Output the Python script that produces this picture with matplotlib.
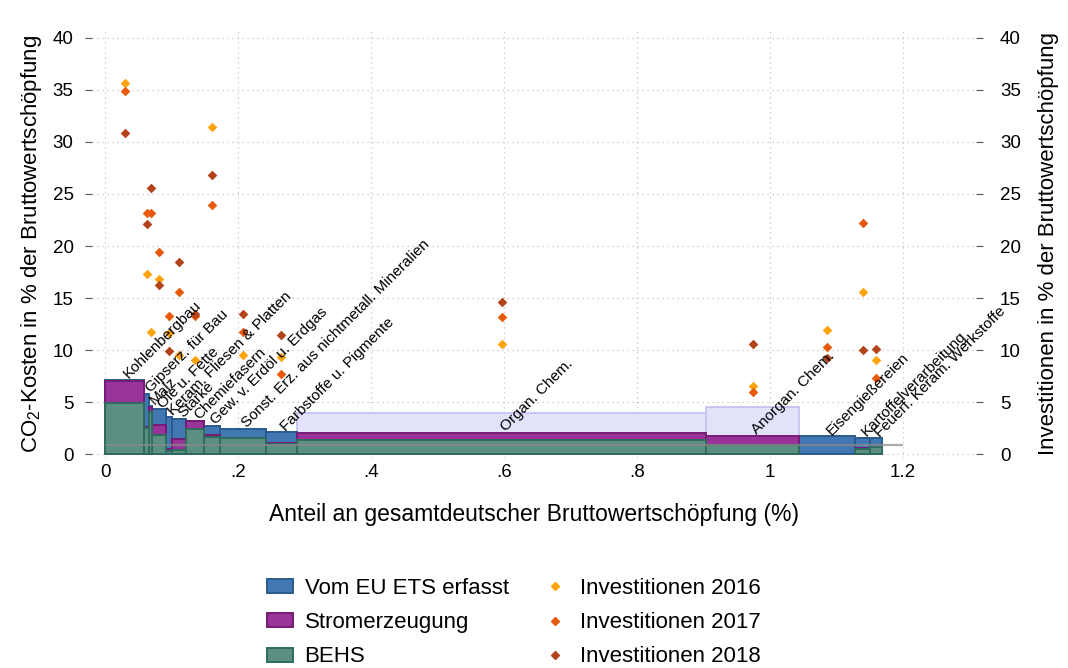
import matplotlib
matplotlib.use('Agg')
import matplotlib.pyplot as plt
from matplotlib.patches import Patch
from matplotlib.lines import Line2D
import numpy as np

plt.rcParams['font.family'] = ['Liberation Sans', 'DejaVu Sans']
plt.rcParams['mathtext.fontset'] = 'custom'
plt.rcParams['mathtext.rm'] = 'Liberation Sans'
plt.rcParams['mathtext.it'] = 'Liberation Sans:italic'

nan = np.nan

# ---------------- data ----------------
sektoren = ["Kohlenbergbau", "Gipserz. für Bau", "Malz", "Öle u. Fette",
            "Keram. Fliesen & Platten", "Stärke", "Chemiefasern",
            "Gew. v. Erdöl u. Erdgas", "Sonst. Erz. aus nichtmetall. Mineralien",
            "Farbstoffe u. Pigmente", "Organ. Chem.", "Anorgan. Chem.",
            "Eisengießereien", "Kartoffelverarbeitung", "Feuerf. Keram. Werkstoffe"]

# Anteil an gesamtdeutscher Bruttowertschöpfung (%) -> bar widths
anteil_bws = [0.0591, 0.0075, 0.0045, 0.0199, 0.0102, 0.0202, 0.0275, 0.0240,
              0.0685, 0.0473, 0.6151, 0.1398, 0.0842, 0.0226, 0.0176]

# CO2-Kosten in % der BWS
kosten_ets = [7.15, 5.8, 4.6, 4.3, 3.6, 3.4, 3.2, 2.7, 2.4, 2.1, nan, nan, 1.7, 1.57, 1.5]
kosten_nicht_ets = [nan, nan, nan, nan, nan, nan, nan, nan, nan, nan, 3.9, 4.55, nan, nan, nan]
kosten_strom = [7.0, 2.6, 4.5, 2.8, 0.5, 1.4, 3.15, 1.8, 0.0, 1.1, 2.05, 1.76, 0.0, 0.55, 0.0]
kosten_behs = [4.9, 2.5, 4.0, 1.8, 0.3, 0.35, 2.45, 1.6, 1.5, 1.0, 1.35, 0.87, 0.0, 0.45, 0.65]

referenzlinie_wert = 0.9
referenzlinie_ende = 1.2

# Investitionen in % der BWS
inv_2016 = [35.7, 17.3, 11.7, 16.8, 11.6, 9.5, 9.0, 31.4, 9.5, 9.3, 10.55, 6.55, 11.9, 15.6, 9.0]
inv_2017 = [34.9, 23.2, 23.2, 19.4, 13.3, 15.6, 13.3, 23.9, 11.7, 7.7, 13.15, 6.0, 10.25, 22.2, 7.35]
inv_2018 = [30.9, 22.1, 25.6, 16.25, 9.9, 18.5, 13.5, 26.8, 13.5, 11.4, 14.65, 10.6, 9.2, 10.0, 10.07]

xticks = [0, 0.2, 0.4, 0.6, 0.8, 1.0, 1.2]
xticklabels = ["0", ".2", ".4", ".6", ".8", "1", "1.2"]
yticks = [0, 5, 10, 15, 20, 25, 30, 35, 40]

# ---------------- style ----------------
c_ets, e_ets = '#4178B4', '#2A5B8C'
c_strom, e_strom = '#993399', '#751C75'
c_behs, e_behs = '#5B8F82', '#2F6B5F'
c_nets, e_nets = '#E2E2FB', '#C6C6F2'
c16, c17, c18 = '#FDA40E', '#E8590C', '#B3431B'

fig = plt.figure(figsize=(10.68, 6.68), dpi=100)
ax = fig.add_axes([0.0859, 0.3141, 0.8282, 0.6415])

w = np.array(anteil_bws)
left = np.concatenate([[0], np.cumsum(w)[:-1]])
center = left + w / 2

def draw(vals, fc, ec, z):
    v = np.array(vals, dtype=float)
    m = ~np.isnan(v) & (v > 0)
    ax.bar(left[m], v[m], width=w[m], align='edge', color=fc, edgecolor=ec,
           linewidth=1.4, zorder=z)

draw(kosten_nicht_ets, c_nets, e_nets, 2)
draw(kosten_ets, c_ets, e_ets, 3)
draw(kosten_strom, c_strom, e_strom, 4)
draw(kosten_behs, c_behs, e_behs, 5)

ax.hlines(referenzlinie_wert, 0, referenzlinie_ende, color='#8a8a8a', alpha=0.7,
          linewidth=1.6, zorder=6)

ms = 24
ax.scatter(center, inv_2016, marker='D', s=ms, color=c16, zorder=7, linewidths=0)
ax.scatter(center, inv_2017, marker='D', s=ms, color=c17, zorder=7, linewidths=0)
ax.scatter(center, inv_2018, marker='D', s=ms, color=c18, zorder=7, linewidths=0)

# sector labels
top = np.nanmax(np.vstack([np.array(kosten_ets, float), np.array(kosten_strom, float),
                           np.array(kosten_behs, float)]), axis=0)
for xc, yt, lab in zip(center, top, sektoren):
    ax.annotate(lab, (xc, yt), xytext=(3, 0.5), textcoords='offset points',
                rotation=45, rotation_mode='anchor', ha='left', va='baseline',
                fontsize=11, zorder=8)

ax.set_xlim(-0.02, 1.31)
ax.set_ylim(-0.4, 40.8)
ax.set_xticks(xticks)
ax.set_xticklabels(xticklabels)
ax.set_yticks(yticks)
ax.grid(True, color='#c4c4c4', linestyle=(0, (1, 3)), linewidth=0.9)
ax.set_axisbelow(True)
for s in ax.spines.values():
    s.set_visible(False)
ax.tick_params(axis='y', labelsize=13.5, length=5, width=0.8, color='#555555', pad=8)
ax.tick_params(axis='x', labelsize=13.5, length=0, pad=4)
ax.set_ylabel('CO$_2$-Kosten in % der Bruttowertschöpfung', fontsize=16, labelpad=6)
ax.set_xlabel('Anteil an gesamtdeutscher Bruttowertschöpfung (%)', fontsize=16.5,
              labelpad=16)

ax2 = ax.twinx()
ax2.set_ylim(ax.get_ylim())
ax2.set_yticks(yticks)
for s in ax2.spines.values():
    s.set_visible(False)
ax2.tick_params(labelsize=13.5, length=5, width=0.8, color='#555555', pad=12)
ax2.set_ylabel('Investitionen in % der Bruttowertschöpfung', fontsize=16, labelpad=12)

handles = [Patch(facecolor=c_ets, edgecolor=e_ets, linewidth=1.4),
           Patch(facecolor=c_strom, edgecolor=e_strom, linewidth=1.4),
           Patch(facecolor=c_behs, edgecolor=e_behs, linewidth=1.4),
           Line2D([], [], marker='D', linestyle='none', color=c16, markersize=4),
           Line2D([], [], marker='D', linestyle='none', color=c17, markersize=4),
           Line2D([], [], marker='D', linestyle='none', color=c18, markersize=4)]
labels = ['Vom EU ETS erfasst', 'Stromerzeugung', 'BEHS',
          'Investitionen 2016', 'Investitionen 2017', 'Investitionen 2018']
fig.legend(handles, labels, ncol=2, loc='upper center', bbox_to_anchor=(0.481, 0.165),
           frameon=False, fontsize=16, handlelength=1.2, handleheight=0.6,
           labelspacing=0.6, columnspacing=1.5, handletextpad=0.5)

fig.savefig('out.png', dpi=100)
